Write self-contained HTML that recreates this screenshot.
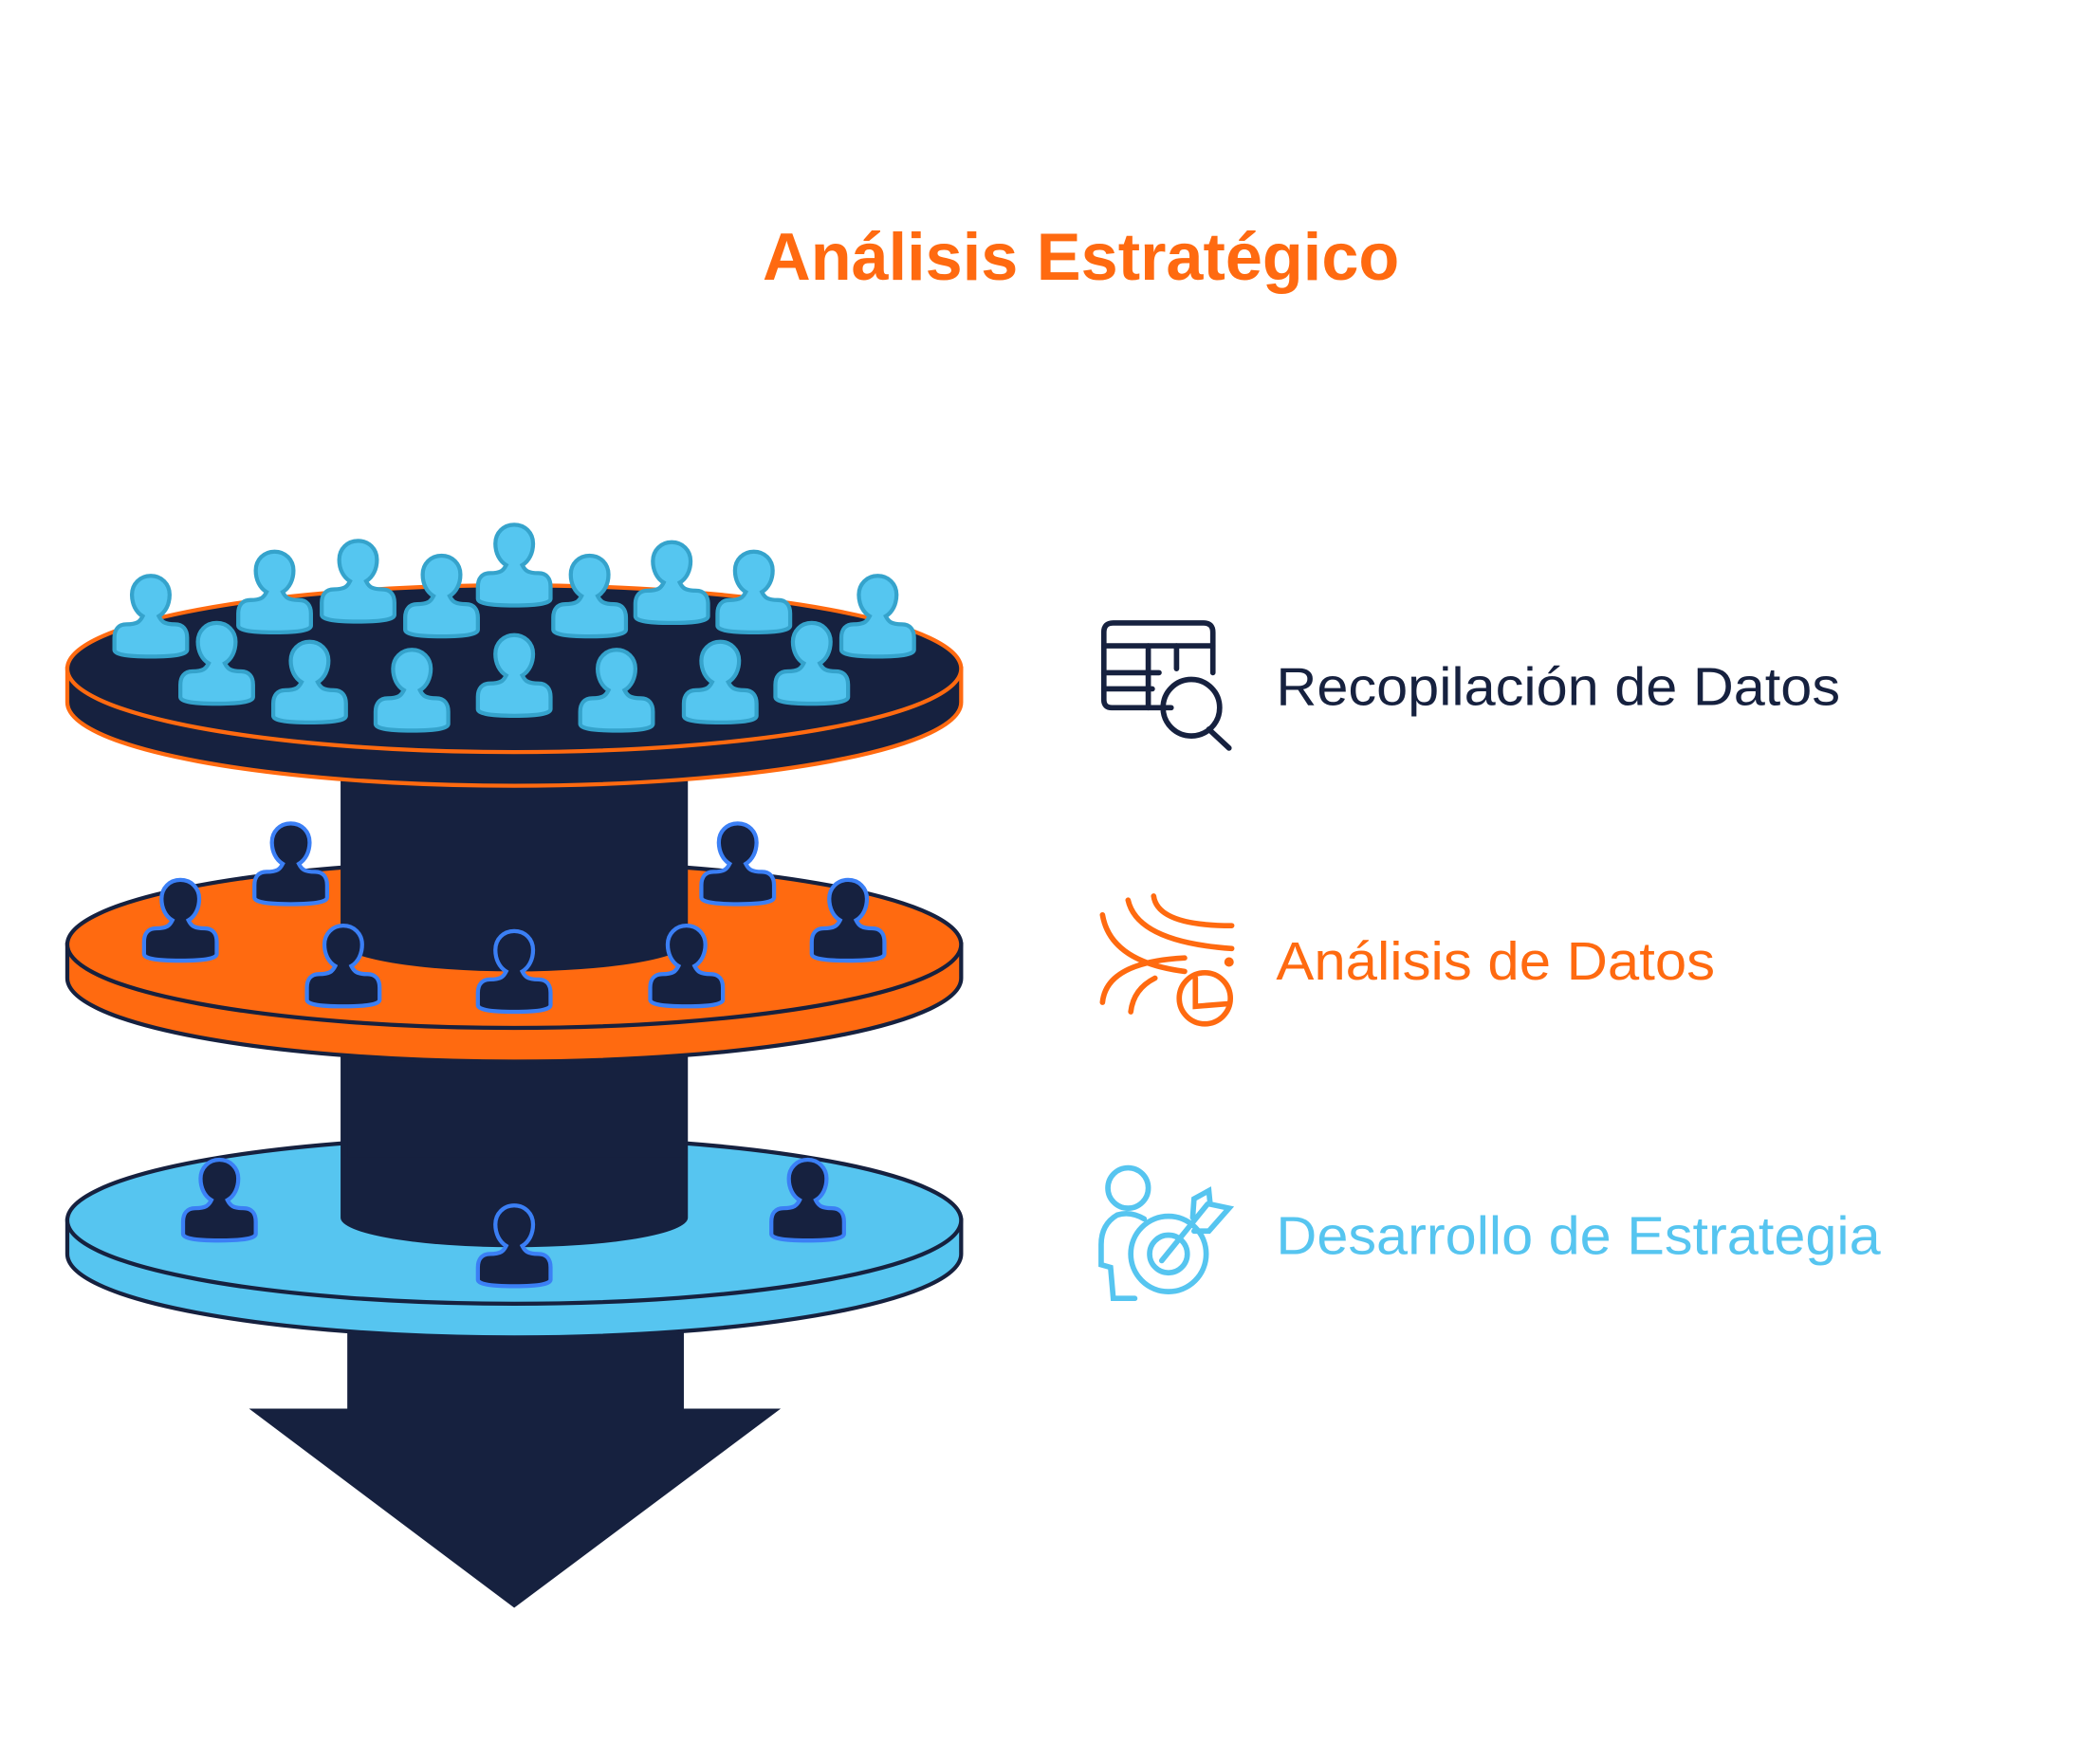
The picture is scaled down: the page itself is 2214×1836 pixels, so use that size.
<!DOCTYPE html>
<html><head><meta charset="utf-8"><style>
html,body{margin:0;padding:0;background:#fff;}
svg{display:block;}
</style></head><body>
<svg width="2214" height="1836" viewBox="0 0 1560 1294" preserveAspectRatio="none" xmlns="http://www.w3.org/2000/svg">
<defs>
<path id="p" d="M -6,30 C -8,34 -10,36 -18,36 C -24,36 -27,40 -27,46 L -27,55 C -27,58 -20,60 0,60 C 20,60 27,58 27,55 L 27,46 C 27,40 24,36 18,36 C 10,36 8,34 6,30 C 11,27 14,21 14,14 C 14,6 8,0 0,0 C -8,0 -14,6 -14,14 C -14,21 -11,27 -6,30 Z"/>
</defs>
<rect width="1560" height="1294" fill="#fff"/>
<text x="803" y="208" text-anchor="middle" font-family="Liberation Sans, sans-serif" font-weight="bold" font-size="50" fill="#ff6a10" textLength="473" lengthAdjust="spacingAndGlyphs">Análisis Estratégico</text>

<!-- arrow -->
<rect x="258" y="960" width="250" height="90" fill="#16213f"/>
<polygon points="185,1047 580,1047 382,1195" fill="#16213f"/>

<!-- bottom disk -->
<path d="M50,907 L50,932 A332,62 0 0 0 714,932 L714,907 Z" fill="#56c5f0" stroke="#16213f" stroke-width="3"/>
<ellipse cx="382" cy="907" rx="332" ry="62" fill="#56c5f0" stroke="#16213f" stroke-width="3"/>
<path d="M253,760 L253,905 A129,22 0 0 0 511,905 L511,760 Z" fill="#16213f"/>
<rect x="258" y="780" width="250" height="80" fill="#16213f"/>

<!-- middle disk -->
<path d="M50,702 L50,727 A332,62 0 0 0 714,727 L714,702 Z" fill="#ff6a10" stroke="#16213f" stroke-width="3"/>
<ellipse cx="382" cy="702" rx="332" ry="62" fill="#ff6a10" stroke="#16213f" stroke-width="3"/>
<path d="M253,560 L253,700 A129,22 0 0 0 511,700 L511,560 Z" fill="#16213f"/>

<!-- top disk -->
<path d="M50,497 L50,522 A332,62 0 0 0 714,522 L714,497 Z" fill="#16213f" stroke="#ff6a10" stroke-width="3"/>
<ellipse cx="382" cy="497" rx="332" ry="62" fill="#16213f" stroke="#ff6a10" stroke-width="3"/>

<!-- top persons -->
<g fill="#55c6f0" stroke="#35a3cc" stroke-width="3">
<use href="#p" x="112" y="428"/><use href="#p" x="204" y="410"/><use href="#p" x="266" y="402"/>
<use href="#p" x="328" y="413"/><use href="#p" x="382" y="390"/><use href="#p" x="438" y="413"/>
<use href="#p" x="499" y="403"/><use href="#p" x="560" y="410"/><use href="#p" x="652" y="428"/>
<use href="#p" x="161" y="463"/><use href="#p" x="230" y="477"/><use href="#p" x="306" y="483"/>
<use href="#p" x="382" y="472"/><use href="#p" x="458" y="483"/><use href="#p" x="535" y="477"/>
<use href="#p" x="603" y="463"/>
</g>
<!-- middle & bottom persons -->
<g fill="#16213f" stroke="#3b7ff5" stroke-width="3">
<use href="#p" x="216" y="612"/><use href="#p" x="548" y="612"/><use href="#p" x="134" y="654"/>
<use href="#p" x="630" y="654"/><use href="#p" x="255" y="688"/><use href="#p" x="382" y="692"/>
<use href="#p" x="510" y="688"/>
<use href="#p" x="163" y="862"/><use href="#p" x="600" y="862"/><use href="#p" x="382" y="896"/>
</g>

<!-- icon 1 -->
<g fill="none" stroke="#16213f" stroke-width="4" stroke-linecap="round">
<path d="M870,526 L826,526 Q820,526 820,520 L820,470 Q820,463 827,463 L894,463 Q901,463 901,470 L901,500"/>
<line x1="820" y1="480" x2="901" y2="480"/>
<line x1="820" y1="500" x2="861" y2="500"/>
<line x1="820" y1="512" x2="856" y2="512"/>
<line x1="853" y1="480" x2="853" y2="526"/>
<line x1="874" y1="480" x2="874" y2="497"/>
<circle cx="885" cy="526" r="21"/>
<line x1="898" y1="542" x2="913" y2="556"/>
</g>
<text x="948" y="524" font-family="Liberation Sans, sans-serif" font-size="40" fill="#16213f" textLength="419" lengthAdjust="spacingAndGlyphs">Recopilación de Datos</text>

<!-- icon 2 -->
<g fill="none" stroke="#ff6a10" stroke-width="4" stroke-linecap="round">
<path d="M819,680 Q825,715 880,722"/>
<path d="M838,669 Q845,700 915,705"/>
<path d="M857,666 Q860,688 915,688"/>
<path d="M819,745 Q822,715 880,712"/>
<path d="M840,752 Q842,735 858,727"/>
<circle cx="895" cy="742" r="19"/>
<path d="M888,727 L888,748 L913,746"/>
<circle cx="913" cy="715" r="1.5" fill="#ff6a10"/>
</g>
<text x="948" y="728" font-family="Liberation Sans, sans-serif" font-size="40" fill="#ff6a10" textLength="326" lengthAdjust="spacingAndGlyphs">Análisis de Datos</text>

<!-- icon 3 -->
<g fill="none" stroke="#56c5f0" stroke-width="4" stroke-linecap="round">
<circle cx="838" cy="883" r="15"/>
<path d="M850,906 Q840,900 830,903 Q818,910 818,925 L818,940 L825,942 L827,965 L843,965"/>
<circle cx="868" cy="932" r="28"/>
<circle cx="868" cy="932" r="14"/>
<path d="M863,937 L897,895"/>
<path d="M886,905 L887,891 L898,885 L899,895 L913,898 L898,915 L887,915"/>
</g>
<text x="948" y="932" font-family="Liberation Sans, sans-serif" font-size="40" fill="#56c5f0" textLength="449" lengthAdjust="spacingAndGlyphs">Desarrollo de Estrategia</text>
</svg>
</body></html>
